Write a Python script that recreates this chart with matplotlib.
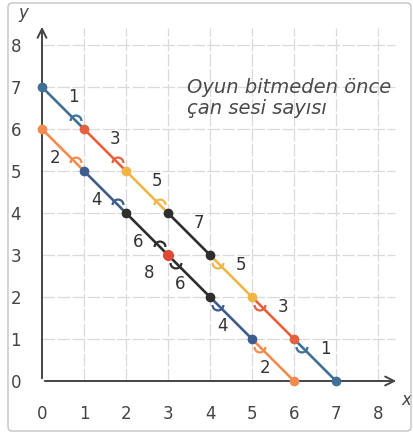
import matplotlib.pyplot as plt
from matplotlib.patches import Arc, FancyBboxPatch

# nodes of the two diagonal paths
upper_x = [0, 1, 2, 3, 4, 5, 6, 7]
upper_y = [7, 6, 5, 4, 3, 2, 1, 0]
upper_counts = [1, 3, 5, 7, 5, 3, 1]

lower_x = [0, 1, 2, 3, 4, 5, 6]
lower_y = [6, 5, 4, 3, 2, 1, 0]
lower_counts = [2, 4, 6, 6, 4, 2]

mid_point = (3, 3)
mid_count = 8

ticks = [0, 1, 2, 3, 4, 5, 6, 7, 8]
note = "Oyun bitmeden önce\nçan sesi sayısı"

blue1 = '#3f7197'
blue2 = '#3c5d8e'
red = '#e5603f'
yellow = '#f3b447'
orange = '#f28c4e'
dark = '#2e2e2e'
upper_colors = [blue1, red, yellow, dark, yellow, red, blue1]
lower_colors = [orange, blue2, dark, dark, blue2, orange]

fig = plt.figure(figsize=(4.13, 4.34), dpi=100)
ax = fig.add_axes([33.6 / 413, 44.6 / 434, 369.6 / 413, 369.6 / 434])
ax.set_xlim(-0.2, 8.6)
ax.set_ylim(-0.2, 8.6)

# frame around the whole picture
fig.patches.append(FancyBboxPatch((8 / 413, 3 / 434), 403 / 413, 428 / 434,
                                  boxstyle='round,pad=0,rounding_size=0.01',
                                  transform=fig.transFigure, fill=False,
                                  edgecolor='#c4c4c4', linewidth=1.0))

for s in ax.spines.values():
    s.set_visible(False)

# grid
for t in ticks[1:]:
    ax.plot([0, 8.4], [t, t], color='#dadada', lw=0.9, ls=(0, (10, 2)), zorder=0)
    ax.plot([t, t], [0, 8.4], color='#dadada', lw=0.9, ls=(0, (10, 2)), zorder=0)

# axes with arrows
ax.annotate('', xy=(8.5, 0), xytext=(0, 0),
            arrowprops=dict(arrowstyle='->', color='#444444', lw=1.4,
                            mutation_scale=16))
ax.annotate('', xy=(0, 8.5), xytext=(0, 0),
            arrowprops=dict(arrowstyle='->', color='#444444', lw=1.4,
                            mutation_scale=16))

ax.set_xticks(ticks)
ax.set_yticks(ticks)
ax.set_xticklabels([str(t) for t in ticks])
ax.set_yticklabels([str(t) for t in ticks])
ax.tick_params(axis='x', length=0, pad=11, labelsize=12, labelcolor='#444444')
ax.tick_params(axis='y', length=0, pad=9, labelsize=12, labelcolor='#444444')
ax.text(-0.45, 8.75, 'y', fontsize=12, style='italic', color='#444444',
        ha='center', va='center')
ax.text(8.68, -0.45, 'x', fontsize=12, style='italic', color='#444444',
        ha='center', va='center')


def draw_path(xs, ys, counts, colors, center_x, off):
    for i, c in enumerate(counts):
        x0, y0, x1, y1 = xs[i], ys[i], xs[i + 1], ys[i + 1]
        col = colors[i]
        ax.plot([x0, x1], [y0, y1], color=col, lw=1.9, zorder=2,
                solid_capstyle='round')
        mx = (x0 + x1) / 2
        my = (y0 + y1) / 2
        ax.text(mx + off[0], my + off[1], str(c), fontsize=12, color='#333333',
                ha='center', va='center')
        if mx < center_x:
            ax.plot(x0, y0, 'o', color=col, ms=6, zorder=4)
            ax.add_patch(Arc((x1 - 0.19, y1 + 0.19), 0.26, 0.26,
                             theta1=0, theta2=180, color=col, lw=1.6, zorder=3))
        elif mx > center_x:
            ax.plot(x1, y1, 'o', color=col, ms=6, zorder=4)
            ax.add_patch(Arc((x0 + 0.19, y0 - 0.19), 0.26, 0.26,
                             theta1=180, theta2=360, color=col, lw=1.6, zorder=3))
        else:
            ax.plot([x0, x1], [y0, y1], 'o', color=col, ms=6, zorder=4)


draw_path(upper_x, upper_y, upper_counts, upper_colors, 3.5, (0.24, 0.26))
draw_path(lower_x, lower_y, lower_counts, lower_colors, 3.0, (-0.2, -0.2))

ax.plot(*mid_point, 'o', color='#e04a35', ms=7, zorder=5)
ax.text(mid_point[0] - 0.45, mid_point[1] - 0.42, str(mid_count), fontsize=12,
        color='#333333', ha='center', va='center')

ax.text(3.45, 7.22, note, fontsize=14, style='italic', color='#4a4a4a',
        ha='left', va='top', linespacing=1.15)

fig.savefig('out.png', dpi=100)
